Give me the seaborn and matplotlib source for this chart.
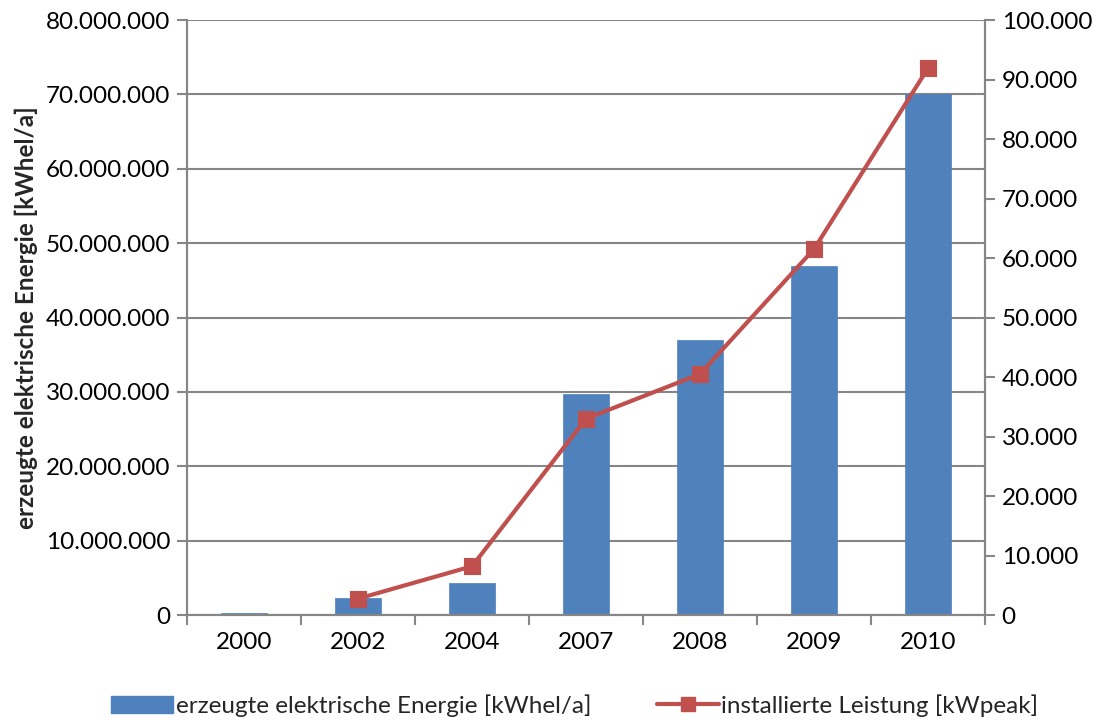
import matplotlib
matplotlib.use("Agg")
import matplotlib.pyplot as plt
from matplotlib.ticker import FuncFormatter, MultipleLocator, FixedLocator
from matplotlib.patches import Patch
from matplotlib.lines import Line2D
import numpy as np
import pandas as pd
import seaborn as sns

# Jahre und Werte
years = ["2000", "2002", "2004", "2007", "2008", "2009", "2010"]
energy_kwh = [300000, 2250000, 4350000, 29700000, 37000000, 46900000, 70000000]
power_kwp = [np.nan, 2750, 8200, 33000, 40500, 61500, 91900]

label_energy = "erzeugte elektrische Energie [kWhel/a]"
label_power = "installierte Leistung [kWpeak]"

BLUE = "#4F81BD"
RED = "#C0504D"
GRAY = "#868686"
FS = 17.5

sns.set_theme(style="white")
plt.rcParams["font.family"] = ["Lato", "DejaVu Sans"]

df = pd.DataFrame({"Jahr": years, "Energie": energy_kwh, "Leistung": power_kwp})

fig = plt.figure(figsize=(11.01, 7.2), dpi=100)
ax = fig.add_axes([0.170, 0.1458, 0.7246, 0.8264])

sns.barplot(data=df, x="Jahr", y="Energie", order=years, color=BLUE,
            width=0.40, saturation=1, ax=ax, zorder=2,
            edgecolor=BLUE, linewidth=0.5)

ax2 = ax.twinx()
sns.pointplot(data=df, x="Jahr", y="Leistung", order=years, color=RED,
              markers="s", markersize=10, linewidth=3, ax=ax2,
              errorbar=None, zorder=3)
for ln in ax2.lines:
    ln.set_markeredgecolor(RED)

def dotted(v, pos):
    return f"{int(round(v)):,}".replace(",", ".")

ax.set_ylim(0, 80_000_000)
ax.yaxis.set_major_locator(MultipleLocator(10_000_000))
ax.yaxis.set_major_formatter(FuncFormatter(dotted))
ax2.set_ylim(0, 100_000)
ax2.yaxis.set_major_locator(MultipleLocator(10_000))
ax2.yaxis.set_major_formatter(FuncFormatter(dotted))

ax.set_xlim(-0.5, len(years) - 0.5)
ax.xaxis.set_minor_locator(FixedLocator(np.arange(-0.5, len(years), 1.0)))
ax.tick_params(axis="x", which="major", length=0, pad=12, labelsize=FS, colors="black")
ax.tick_params(axis="x", which="minor", length=7, width=1.5, color=GRAY, bottom=True)
ax.tick_params(axis="y", which="major", left=True, length=7, width=1.5, color=GRAY,
               labelsize=FS, labelcolor="black", pad=5)
ax2.tick_params(axis="y", which="major", right=True, length=7, width=1.5, color=GRAY,
                labelsize=FS, labelcolor="black", pad=5)

ax.yaxis.grid(True, color=GRAY, linewidth=1.5, zorder=0)
ax.set_axisbelow(True)
ax.set_xlabel("")
ax.set_ylabel("erzeugte elektrische Energie [kWhel/a]", fontsize=17.5,
              fontweight="bold", labelpad=6)
ax2.set_ylabel("")

for a in (ax, ax2):
    for side in ("left", "right", "bottom"):
        a.spines[side].set_color(GRAY)
        a.spines[side].set_linewidth(1.5)
    a.spines["top"].set_visible(False)

handles = [
    Patch(facecolor=BLUE, edgecolor=BLUE),
    Line2D([0], [0], color=RED, linewidth=3, marker="s", markersize=10,
           markeredgecolor=RED),
]
fig.legend(handles, [label_energy, label_power], loc="center",
           bbox_to_anchor=(0.522, 0.02), ncol=2, frameon=False, fontsize=FS,
           handlelength=2.55, handletextpad=0.1, columnspacing=2.7)

fig.savefig("out.png", dpi=100)
